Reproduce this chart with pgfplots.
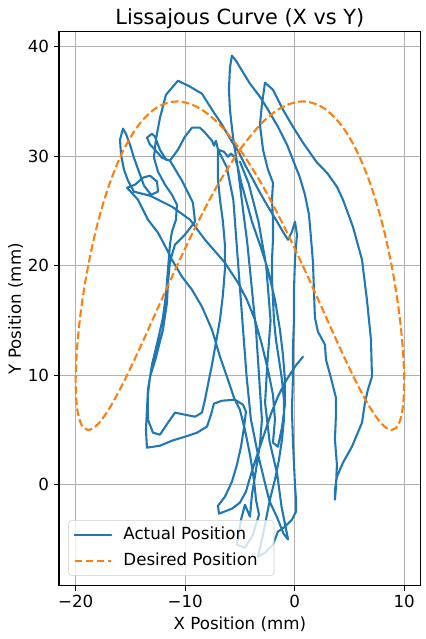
\documentclass[border=0pt]{standalone}
\usepackage{pgfplots}
\pgfplotsset{compat=1.18}
\usepackage{fontspec}
\setmainfont{DejaVu Sans}
\definecolor{mplblue}{HTML}{1F77B4}
\definecolor{mplorange}{HTML}{FF7F0E}
\definecolor{gridgray}{HTML}{B0B0B0}
\definecolor{legendedge}{HTML}{CCCCCC}
\begin{document}
\begin{tikzpicture}
\path[use as bounding box] (-42.5pt,-38.4pt) rectangle (264.2pt,421.7pt);
\begin{axis}[
  at={(0,0)}, anchor=south west,
  scale only axis, width=260.4pt, height=398.9pt,
  xmin=-21.52, xmax=11.51, ymin=-9.22, ymax=41.37,
  xtick={-20,-10,0,10}, xticklabels={−20,−10,0,10},
  ytick={0,10,20,30,40}, yticklabels={0,10,20,30,40},
  tick pos=left, tick align=outside, major tick length=3.5pt,
  every tick/.style={black, line width=0.8pt},
  axis line style={line width=0.8pt},
  grid=major, grid style={gridgray, line width=0.8pt},
  xticklabel style={font=\fontsize{12}{14}\selectfont, anchor=base, inner sep=0pt, yshift=-12.05pt},
  yticklabel style={font=\fontsize{12}{14}\selectfont, anchor=east, inner sep=0pt, xshift=-3.5pt},
  xlabel={X Position (mm)}, ylabel={Y Position (mm)},
  xlabel style={font=\fontsize{12}{14}\selectfont, at={(axis description cs:0.5,0)}, anchor=base, inner sep=0pt, yshift=-31.5pt},
  ylabel style={font=\fontsize{12}{14}\selectfont, at={(axis description cs:0,0.5)}, anchor=base, inner sep=0pt, yshift=27.5pt},
  title={Lissajous Curve (X vs Y)},
  title style={font=\fontsize{15}{18}\selectfont, at={(axis description cs:0.5,1)}, anchor=base, inner sep=0pt, yshift=-1pt},
  legend cell align=left,
  legend image code/.code={\draw[#1] (0pt,0pt) -- (26.4pt,0pt);},
  legend style={at={(axis description cs:0.0257,0.0175)}, anchor=south west,
    font=\fontsize{12}{14}\selectfont, draw=legendedge, rounded corners=2.5pt,
    fill=white, fill opacity=0.8, draw opacity=1, text opacity=1,
    inner xsep=3.6pt, inner ysep=0.7pt, row sep=0pt, column sep=8pt,
    nodes={inner sep=0pt, text height=12.8pt, text depth=6.4pt, text width=104.8pt, align=left}},
]
\addplot[mplblue, line width=1.5pt, line join=round, line cap=round] coordinates {
(0.76,11.69)(0.03,10.78)(-0.79,9.50)(-1.53,8.04)(-2.16,6.48)(-2.71,4.84)(-3.17,3.47)(-3.63,2.10)(-4.08,0.64)(-4.45,-0.64)(-5.00,-1.64)(-5.73,-2.19)(-6.46,-2.47)(-6.91,-2.65)
(-7.00,-1.92)(-6.37,-1.10)(-5.73,0.27)(-5.27,1.83)(-4.90,3.47)(-4.63,5.21)(-4.45,6.67)(-4.72,7.31)(-5.45,7.76)(-6.64,7.67)(-7.37,7.40)(-7.64,6.39)(-8.01,5.30)(-8.92,4.75)(-10.02,4.38)(-11.21,4.02)(-12.30,3.56)(-13.49,3.38)
(-13.58,5.02)(-13.49,6.85)(-13.40,8.68)(-13.03,10.96)(-12.48,13.24)(-12.03,15.25)(-11.75,17.35)(-11.57,19.63)(-11.39,21.92)(-11.21,23.10)(-10.84,24.20)(-10.75,25.57)(-11.21,26.48)(-11.84,27.40)(-12.48,28.58)(-12.85,29.86)(-12.67,31.51)(-12.30,33.51)(-11.75,35.61)(-10.66,36.89)
(-9.56,36.35)(-8.47,35.71)(-7.55,34.25)(-6.64,32.88)(-5.73,31.32)(-5.18,30.50)(-4.54,29.22)(-3.90,28.04)(-3.17,26.67)(-2.44,25.39)(-1.71,24.20)(-1.07,23.10)(-0.61,22.37)(-0.25,23.10)(0.03,24.02)(0.21,22.83)(0.03,20.55)(-0.06,17.81)(-0.06,15.07)(-0.16,12.33)(-0.16,9.59)(-0.25,6.85)(-0.16,4.11)(-0.06,1.83)(0.03,0)(0.12,-1.37)
(0.12,-2.47)(-0.25,-3.20)(-0.89,-3.84)(-1.53,-4.29)(-1.98,-5.48)(-2.71,-6.21)(-3.35,-6.58)
(-2.99,-5.02)(-2.62,-3.20)(-2.26,-1.37)(-1.80,0.46)(-1.43,2.28)(-1.16,4.11)(-0.98,5.94)(-0.98,7.76)(-1.16,9.59)(-1.43,11.42)(-1.71,13.24)(-1.89,15.07)(-1.98,16.89)(-2.07,18.72)(-2.07,20.55)(-1.98,22.37)(-1.98,24.20)(-2.07,26.03)(-1.98,27.58)(-2.44,28.77)(-2.89,30.59)(-3.17,32.88)(-2.99,34.70)(-2.71,36.71)
(-1.98,36.07)(-1.07,34.25)(-0.16,32.69)(0.76,31.23)(2.04,29.41)(2.95,28.49)(3.86,27.21)(4.41,26.03)(5.32,23.56)(6.15,20.55)(6.60,16.89)(6.97,13.24)(7.06,9.86)(6.69,8.68)(6.42,7.49)(6.15,5.66)(5.23,3.47)(4.41,2.01)(3.86,0.73)(3.68,-0.46)(3.68,-1.37)
(3.77,-0.27)(3.86,1.83)(3.68,4.11)(3.77,6.39)(3.77,7.94)(3.31,9.77)(2.86,11.42)(2.77,12.78)(2.13,13.97)(1.85,15.25)(1.76,17.81)(1.67,20.36)(1.49,22.56)(1.31,24.66)(0.94,26.48)(0.48,28.04)(-0.16,29.68)(-0.70,31.05)(-1.53,32.69)(-2.44,34.25)(-3.17,35.43)(-4.08,36.62)(-4.81,37.81)(-5.36,38.72)(-5.73,39.18)
(-5.91,38.08)(-6.00,36.07)(-5.91,34.25)(-5.73,32.60)(-5.54,31.05)(-5.27,29.50)(-5.00,27.40)(-4.72,25.11)(-4.36,22.37)(-4.08,19.63)(-3.81,16.89)(-3.53,14.15)(-3.35,11.42)(-3.17,8.68)(-2.99,5.94)(-3.17,3.65)(-3.53,1.37)(-3.90,-0.91)(-4.08,-2.92)(-4.54,-1.83)(-4.90,-3.20)(-5.27,-5.48)(-4.54,-5.75)(-3.81,-4.57)(-3.26,-2.74)
(-3.53,-1.37)(-3.72,0.46)(-4.08,2.74)(-4.54,5.02)(-5.00,6.85)(-5.54,7.94)(-6.09,9.59)(-6.82,11.69)(-7.55,14.15)(-8.47,16.26)(-9.38,17.81)(-10.29,18.99)(-11.21,20.55)(-11.66,21.46)(-12.48,23.01)(-13.40,24.20)(-14.31,26.03)(-15.31,27.12)
(-14.58,27.40)(-13.85,28.04)(-13.21,28.22)(-12.57,27.67)(-12.48,26.76)(-13.12,26.48)(-13.76,27.31)(-14.22,28.58)(-14.68,29.86)(-15.04,31.05)(-15.41,32.05)(-15.68,32.51)(-15.95,31.51)(-15.86,30.14)(-15.59,28.77)(-15.22,27.76)(-14.68,26.76)(-13.21,26.39)(-11.21,25.39)(-9.56,24.20)(-8.19,22.37)(-6.37,20.27)(-5.18,18.45)(-4.36,16.89)(-3.63,15.07)(-2.99,12.78)(-2.44,10.50)(-1.98,8.22)(-1.80,5.94)(-1.98,3.84)(-1.53,3.47)(-1.16,5.21)(-0.89,7.31)(-0.89,9.59)(-1.07,11.87)(-1.34,14.15)(-1.80,16.89)(-2.44,19.63)(-3.17,21.92)(-3.90,24.02)(-4.45,26.03)(-4.90,27.67)(-5.18,28.95)(-5.45,29.86)(-5.82,30.23)(-6.09,29.95)
(-6.46,30.41)(-7.00,30.59)(-7.19,31.41)(-7.37,30.96)(-7.55,31.41)(-8.19,32.15)(-8.65,32.60)(-9.38,32.60)(-10.02,31.78)(-10.66,30.59)(-11.39,29.59)(-12.12,29.86)(-12.76,30.59)(-13.21,31.05)(-13.49,31.69)(-13.03,32.05)(-12.76,31.78)(-12.30,30.59)(-11.75,29.68)(-11.39,29.59)(-10.29,27.76)(-9.29,25.75)(-9.10,24.02)(-10.02,22.83)(-10.93,21.92)(-11.39,20.36)(-11.57,18.45)(-11.66,16.62)(-12.03,14.15)(-12.67,11.60)(-13.21,9.86)(-13.40,8.22)(-13.40,5.94)(-12.94,4.75)(-12.30,4.57)(-11.57,5.66)(-10.93,6.58)(-10.02,6.39)(-9.10,6.21)(-8.47,6.58)(-8.19,7.76)(-7.92,9.13)(-7.55,10.96)(-7.19,12.97)(-6.82,15.07)(-6.55,17.35)(-6.37,19.63)(-6.37,21.92)(-6.55,24.02)(-6.82,26.03)(-7.00,27.85)(-7.00,29.68)(-7.00,30.59)
(-6.20,29.00)(-5.60,26.00)(-5.30,22.00)(-5.00,18.00)(-4.70,14.00)(-4.40,10.00)(-4.00,6.00)(-3.40,3.00)(-2.80,0.50)(-2.30,-1.50)(-1.60,-3.00)(-1.00,-4.50)(-0.60,-5.00)
(-1.20,-2.00)(-1.60,1.00)(-2.30,4.00)(-2.70,7.50)(-2.50,11.00)(-2.20,15.00)(-2.60,20.00)(-3.30,24.00)(-4.20,27.50)(-5.00,29.50)
};
\addlegendentry{Actual Position}
\addplot[mplorange, line width=1.5pt, dash pattern=on 5.55pt off 2.4pt, smooth, tension=0.55] coordinates {
(-5,30.607)(-3.042,32.990)(-1.118,34.489)(0.740,35)(2.5,34.489)(4.131,32.990)(5.607,30.607)(6.900,27.5)(7.990,23.882)(8.858,20)(9.489,16.118)(9.872,12.5)(10,9.393)(9.872,7.010)(9.489,5.511)(8.858,5)(7.990,5.511)(6.900,7.010)(5.607,9.393)(4.131,12.5)(2.5,16.118)(0.740,20)(-1.118,23.882)(-3.042,27.5)(-5,30.607)(-6.958,32.990)(-8.882,34.489)(-10.740,35)(-12.5,34.489)(-14.131,32.990)(-15.607,30.607)(-16.900,27.5)(-17.990,23.882)(-18.858,20)(-19.489,16.118)(-19.872,12.5)(-20,9.393)(-19.872,7.010)(-19.489,5.511)(-18.858,5)(-17.990,5.511)(-16.900,7.010)(-15.607,9.393)(-14.131,12.5)(-12.5,16.118)(-10.740,20)(-8.882,23.882)(-6.958,27.5)(-5,30.607)
};
\addlegendentry{Desired Position}
\end{axis}
\end{tikzpicture}
\end{document}
